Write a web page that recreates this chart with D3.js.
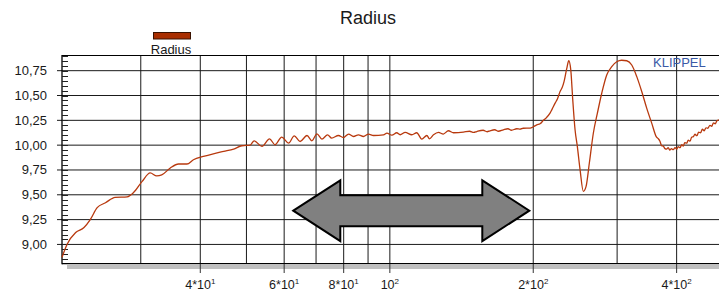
<!DOCTYPE html>
<meta charset="utf-8">
<style>
body { margin: 0; background: #fff; }
svg text { font-family: Arial, "Liberation Sans", sans-serif; fill: #1a1a1a; }
.grid line { stroke: #1a1a1a; stroke-width: 1; }
</style>
<svg width="719" height="293"></svg>
<script src="https://d3js.org/d3.v7.min.js"></script>
<script>

// frequency in Hz, radius value
var freq = [20.5, 21.0, 21.9, 22.8, 23.5, 24.3, 25.3, 26.5, 28.1, 29.0,
  30.2, 31.4, 32.4, 33.2, 34.6, 36.0, 37.5, 38.7, 40.6, 42.6,
  44.8, 47.0, 48.9, 50.9, 51.9, 53.9, 55.9, 57.4, 59.3, 61.3,
  63.0, 64.8, 67.0, 68.6, 70.3, 72.0, 74.0, 75.5, 78.0, 79.9,
  81.9, 83.9, 85.9, 88.0, 90.2, 92.4, 97.0, 98.6, 101.0, 103.4,
  105.1, 107.7, 111.2, 113.9, 116.7, 119.6, 121.1, 123.5, 126.5, 129.5,
  132.7, 136.0, 142.7, 147, 150, 152.2, 157, 160, 162.3, 166,
  169, 173.1, 177, 180, 184.7, 187.7, 190.5, 193.9, 197, 200.1,
  203.4, 206.7, 210.1, 213, 216.9, 219, 222.3, 225, 227.7, 230,
  232.1, 235.2, 237.5, 239.8, 242.1, 244.8, 247.5, 250.8, 254.8, 258.2,
  262.3, 267.4, 272.7, 278.5, 285.3, 292.3, 299.4, 306.7, 314.3, 322.0,
  329.9, 337.9, 346.1, 354.6, 363, 366, 369, 372, 375, 378,
  381, 384, 387, 390, 393.6, 397, 400, 403, 406.6, 410,
  413, 416, 420, 423, 427, 430, 433.6, 437, 441, 445,
  449, 453, 457, 461, 465, 469.9, 474, 478, 482, 486, 490.9];
var radius = [8.87, 9.00, 9.12, 9.17, 9.25, 9.37, 9.42, 9.475, 9.48, 9.525,
  9.635, 9.72, 9.69, 9.70, 9.77, 9.81, 9.81, 9.853, 9.886, 9.913,
  9.937, 9.96, 9.994, 10.0, 10.044, 9.987, 10.064, 10.004, 10.081, 10.021,
  10.094, 10.037, 10.097, 10.044, 10.114, 10.061, 10.104, 10.071, 10.097, 10.077,
  10.111, 10.087, 10.104, 10.087, 10.111, 10.097, 10.104, 10.121, 10.10, 10.125,
  10.105, 10.128, 10.105, 10.125, 10.061, 10.097, 10.064, 10.104, 10.128, 10.112,
  10.145, 10.125, 10.131, 10.14, 10.128, 10.137, 10.15, 10.135, 10.145, 10.155,
  10.14, 10.155, 10.165, 10.15, 10.165, 10.161, 10.17, 10.171, 10.171, 10.185,
  10.205, 10.215, 10.25, 10.275, 10.322, 10.36, 10.423, 10.47, 10.54, 10.58,
  10.64, 10.774, 10.85, 10.757, 10.456, 10.155, 9.987, 9.753, 9.535, 9.585,
  9.82, 10.12, 10.322, 10.523, 10.707, 10.79, 10.84, 10.855, 10.85, 10.807,
  10.69, 10.54, 10.373, 10.222, 10.08, 10.065, 10.04, 9.994, 9.99, 9.965,
  9.96, 9.975, 9.95, 9.965, 9.954, 9.975, 9.96, 9.985, 9.975, 10.005,
  9.99, 10.025, 10.02, 10.05, 10.04, 10.08, 10.085, 10.11, 10.095, 10.13,
  10.125, 10.16, 10.145, 10.175, 10.17, 10.2, 10.19, 10.225, 10.215, 10.245, 10.255];

var yTicks = [9.00, 9.25, 9.50, 9.75, 10.00, 10.25, 10.50, 10.75];
var xGrid = [30, 40, 50, 60, 70, 80, 90, 100, 200, 300, 400];
var xLabels = [[40, "4*10", "1"], [60, "6*10", "1"], [80, "8*10", "1"],
               [100, "10", "2"], [200, "2*10", "2"], [400, "4*10", "2"]];

var svg = d3.select("svg");
var pLeft = 62, pTop = 55, pBottom = 263.3, pRight = 719;

var x = d3.scaleLog().domain([20.5, 490.9]).range([pLeft, pRight]);
var y = d3.scaleLinear().domain([8.81, 10.908]).range([pBottom, pTop]);

// title
svg.append("text").attr("x", 368).attr("y", 24)
  .attr("text-anchor", "middle").style("font-size", "18px").text("Radius");

// legend
svg.append("rect").attr("x", 153.5).attr("y", 32.5).attr("width", 37).attr("height", 6.5)
  .attr("fill", "#a82e00").attr("stroke", "#3a1200").attr("stroke-width", 1);
svg.append("text").attr("x", 171).attr("y", 53.5)
  .attr("text-anchor", "middle").style("font-size", "13px").text("Radius");

// grid
var grid = svg.append("g").attr("class", "grid");
grid.selectAll(".h").data(yTicks).enter().append("line")
  .attr("x1", 57).attr("x2", pRight)
  .attr("y1", function(d) { return y(d); }).attr("y2", function(d) { return y(d); });
grid.selectAll(".v").data(xGrid).enter().append("line")
  .attr("y1", pTop).attr("y2", pBottom)
  .attr("x1", function(d) { return x(d); }).attr("x2", function(d) { return x(d); });

// frame
svg.append("line").attr("x1", pLeft).attr("x2", pRight).attr("y1", pTop + 0.5).attr("y2", pTop + 0.5)
  .attr("stroke", "#000");
svg.append("line").attr("x1", pLeft).attr("x2", pLeft).attr("y1", pTop).attr("y2", pBottom + 1)
  .attr("stroke", "#000").attr("stroke-width", 1.3);
svg.append("line").attr("x1", pLeft).attr("x2", pRight).attr("y1", pBottom + 0.3).attr("y2", pBottom + 0.3)
  .attr("stroke", "#000").attr("stroke-width", 1.3);
svg.append("rect").attr("x", 67).attr("y", 264.5).attr("width", pRight - 67).attr("height", 4.5)
  .attr("fill", "#c0c0c0");

// y minor ticks
var minor = d3.range(8.85, 10.91, 0.05);
svg.append("g").selectAll("line").data(minor).enter().append("line")
  .attr("x1", pLeft).attr("x2", 68)
  .attr("y1", function(d) { return Math.round(y(d)) + 0.5; })
  .attr("y2", function(d) { return Math.round(y(d)) + 0.5; })
  .attr("stroke", "#222");

// y labels
svg.append("g").selectAll("text").data(yTicks).enter().append("text")
  .attr("x", 47).attr("y", function(d) { return y(d) + 4.5; })
  .attr("text-anchor", "end").style("font-size", "13px")
  .text(function(d) { return d.toFixed(2).replace(".", ","); });

// x ticks + labels
var xl = svg.append("g");
xl.selectAll("line").data(xLabels).enter().append("line")
  .attr("x1", function(d) { return x(d[0]); }).attr("x2", function(d) { return x(d[0]); })
  .attr("y1", 264).attr("y2", 273).attr("stroke", "#333");
var lab = xl.selectAll("text").data(xLabels).enter().append("text")
  .attr("x", function(d) { return x(d[0]); }).attr("y", 289)
  .attr("text-anchor", "middle").style("font-size", "12.5px");
lab.append("tspan").text(function(d) { return d[1]; });
lab.append("tspan").attr("dy", -5).style("font-size", "8px").text(function(d) { return d[2]; });

// curve
var pts = freq.map(function(f, i) { return [f, radius[i]]; });
var line = d3.line().curve(d3.curveMonotoneX)
  .x(function(d) { return x(d[0]); }).y(function(d) { return y(d[1]); });
svg.append("path").datum(pts).attr("d", line)
  .attr("fill", "none").attr("stroke", "#b8390e").attr("stroke-width", 1.3)
  .attr("stroke-linejoin", "round");

// KLIPPEL
svg.append("text").attr("x", 653).attr("y", 67).style("font-size", "13px")
  .style("fill", "#3b5aa6").text("KLIPPEL");

// double arrow
var ax1 = 293.3, ax2 = 529.3, ay = 210.7, hh = 30.4, sh = 15.5, hl = 47;
var arrow = [[ax1, ay], [ax1 + hl, ay - hh], [ax1 + hl, ay - sh], [ax2 - hl, ay - sh],
  [ax2 - hl, ay - hh], [ax2, ay], [ax2 - hl, ay + hh], [ax2 - hl, ay + sh],
  [ax1 + hl, ay + sh], [ax1 + hl, ay + hh]];
svg.append("polygon").attr("points", arrow.map(function(p) { return p.join(","); }).join(" "))
  .attr("fill", "#808080").attr("stroke", "#000").attr("stroke-width", 2)
  .attr("stroke-linejoin", "miter");

</script>
